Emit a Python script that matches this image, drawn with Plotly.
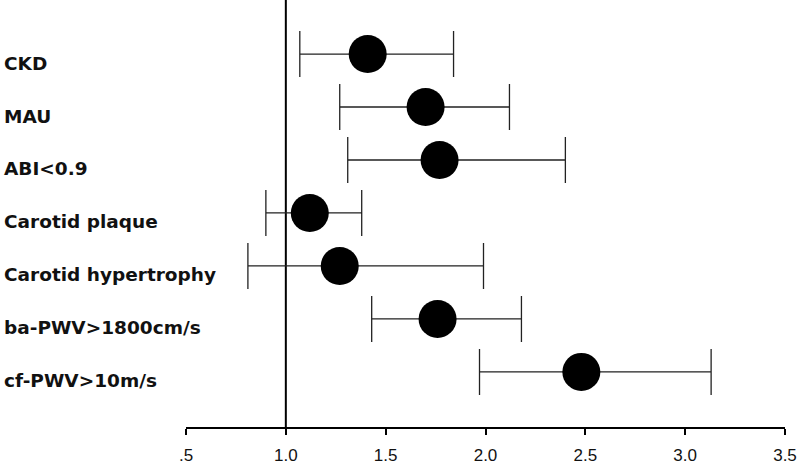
import plotly.graph_objects as go

categories = ["CKD", "MAU", "ABI<0.9", "Carotid plaque", "Carotid hypertrophy",
              "ba-PWV>1800cm/s", "cf-PWV>10m/s"]
estimate = [1.41, 1.70, 1.77, 1.12, 1.27, 1.76, 2.48]
lower = [1.07, 1.27, 1.31, 0.90, 0.81, 1.43, 1.97]
upper = [1.84, 2.12, 2.40, 1.38, 1.99, 2.18, 3.13]
tick_vals = [0.5, 1.0, 1.5, 2.0, 2.5, 3.0, 3.5]
tick_text = [".5", "1.0", "1.5", "2.0", "2.5", "3.0", "3.5"]
ref_value = 1.0

err_plus = [u - e for u, e in zip(upper, estimate)]
err_minus = [e - l for e, l in zip(estimate, lower)]

fig = go.Figure()
fig.add_trace(go.Scatter(
    x=estimate, y=categories, mode="markers",
    marker=dict(size=38, color="black"),
    error_x=dict(type="data", array=err_plus, arrayminus=err_minus,
                 color="#222222", thickness=1.3, width=23),
    showlegend=False, cliponaxis=False,
))

fig.add_shape(type="line", xref="x", yref="paper", x0=ref_value, x1=ref_value,
              y0=0, y1=1, line=dict(color="black", width=2), layer="below")

for c in categories:
    fig.add_annotation(text=c, xref="paper", yref="y", x=0, y=c, xshift=-184,
                       yshift=-9, xanchor="left", yanchor="middle", showarrow=False,
                       font=dict(family="DejaVu Sans", size=18.5, color="#111111",
                                 weight="bold"))

fig.update_layout(
    width=797, height=465,
    margin=dict(l=186, r=12, t=0, b=30),
    paper_bgcolor="white", plot_bgcolor="white",
    font=dict(family="Liberation Sans", size=17, color="black"),
)
fig.update_xaxes(range=[0.5, 3.5], tickvals=tick_vals, ticktext=tick_text,
                 showgrid=False, zeroline=False, showline=True, linecolor="black",
                 linewidth=1.5, ticks="outside", ticklen=6, tickcolor="black",
                 tickwidth=1.5, ticklabelstandoff=6,
                 tickfont=dict(family="Liberation Sans", size=17, color="#111111"))
fig.update_yaxes(type="category", categoryorder="array", categoryarray=categories,
                 range=[7.04, -1.02], showgrid=False, zeroline=False,
                 showline=False, showticklabels=False, ticks="")

fig.write_html("out.html", post_script="document.body.style.margin='0';",
               config={"displayModeBar": False})
